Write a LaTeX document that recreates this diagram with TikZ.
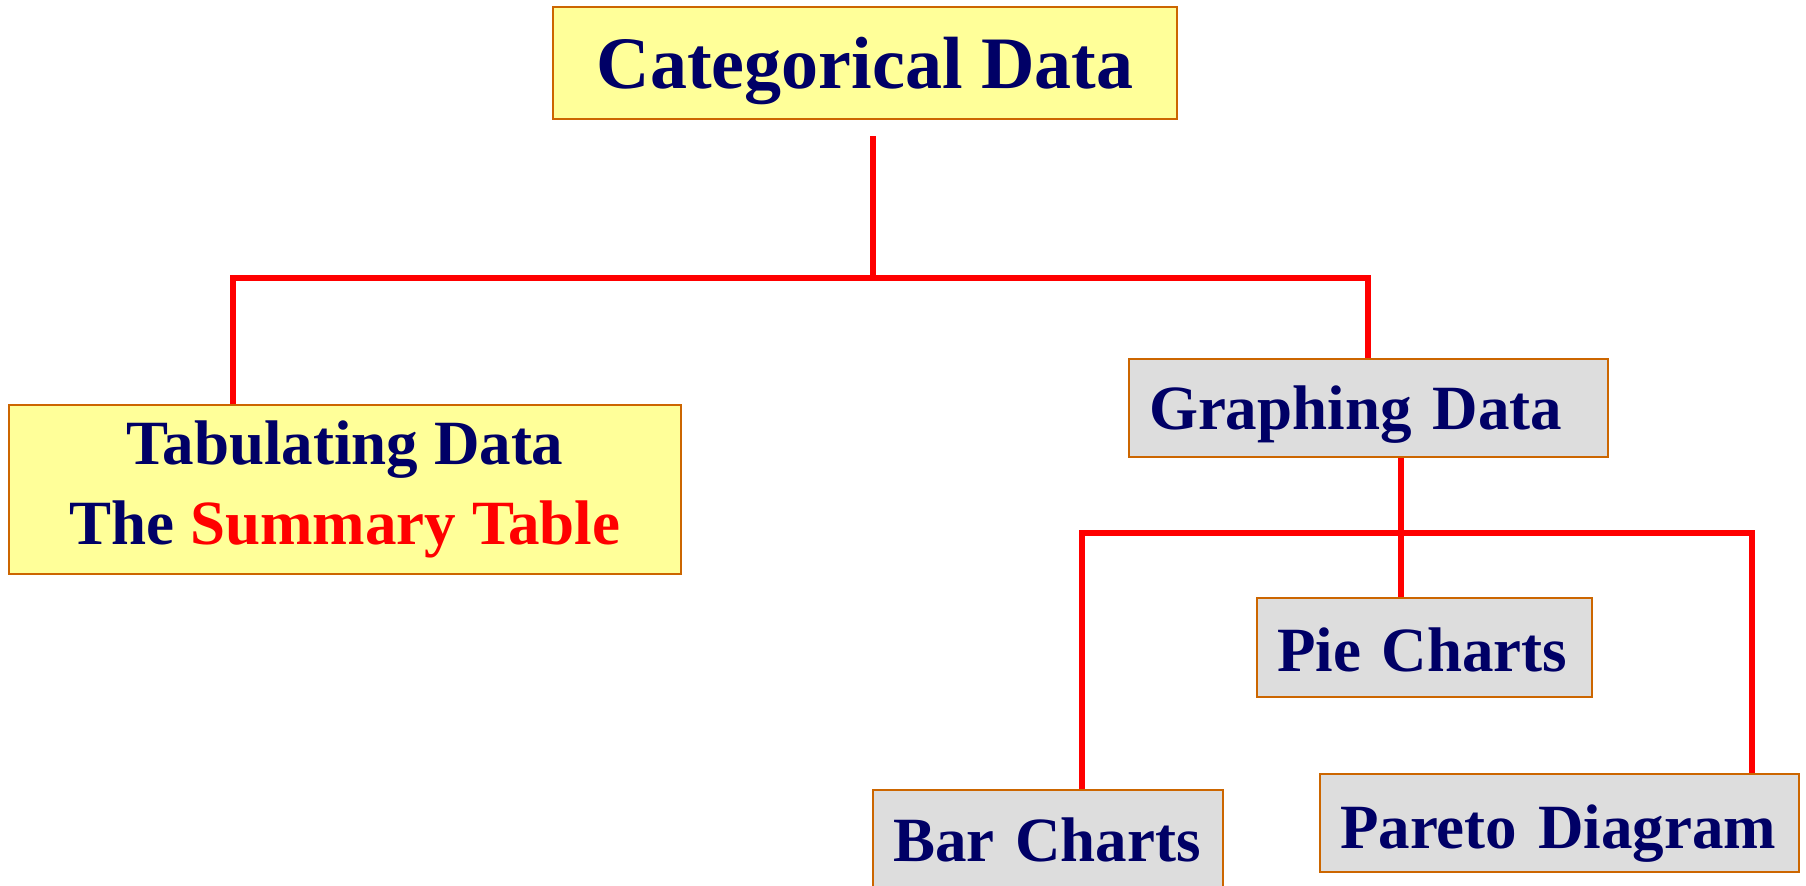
\documentclass[tikz,border=0pt]{standalone}
\usepackage{fontspec}
\setmainfont{Liberation Serif}
\definecolor{navytext}{HTML}{000066}
\definecolor{boxedge}{HTML}{CC6600}
\definecolor{paleyellow}{HTML}{FFFF99}
\definecolor{palegray}{HTML}{DDDDDD}
\tikzset{
  catbox/.style={draw=boxedge,line width=1.2pt,rectangle,inner xsep=10pt,inner ysep=0pt,
    text=navytext,font=\bfseries\fontsize{31.5}{40}\selectfont},
  yellowbox/.style={catbox,fill=paleyellow,align=center},
  graybox/.style={catbox,fill=palegray,align=left,text depth=4pt,text height=28pt},
  link/.style={draw=red,line width=3.4pt,line join=miter}
}
\begin{document}
\begin{tikzpicture}[x=0.5pt,y=-0.5pt]
	\useasboundingbox (0,0) rectangle (1806,886);
	\node[yellowbox,minimum width=312pt,minimum height=56pt,text height=32pt,text depth=6pt,font=\bfseries\fontsize{37}{44}\selectfont] (cat) at (865,63) {Categorical Data};
	\node[yellowbox,minimum width=336pt,minimum height=84.5pt] (tab) at (345,489.5) {Tabulating Data\\The \textcolor{red}{Summary Table}};
	\node[graybox,minimum height=49pt,text width=219.5pt,text height=25.5pt] (graph) at (1368.5,408) {Graphing Data};
	\node[graybox,minimum height=49.5pt,text width=147.5pt] (pie) at (1424.5,647.5) {Pie Charts};
	\node[graybox,minimum height=49pt,text width=155pt,text height=27pt] (bar) at (1048,839) {Bar Charts};
	\node[graybox,minimum height=49pt,text width=219.5pt,text height=30pt] (pareto) at (1559.5,823) {Pareto Diagram};
	% first level
	\coordinate (jA) at (873,278);
	\coordinate (busL) at (233,278);
	\coordinate (busR) at (1368,278);
	\draw[link] ([yshift=-8pt]cat.south -| jA) -- (jA);
	\draw[link] (tab.north -| busL) -- (busL) -- (busR) -- (graph.north -| busR);
	% second level
	\coordinate (jB) at (1401,533);
	\coordinate (busBL) at (1082,533);
	\coordinate (busBR) at (1752,533);
	\draw[link] (graph.south -| jB) -- (pie.north -| jB);
	\draw[link] (bar.north -| busBL) -- (busBL) -- (busBR) -- (pareto.north -| busBR);
\end{tikzpicture}
\end{document}
